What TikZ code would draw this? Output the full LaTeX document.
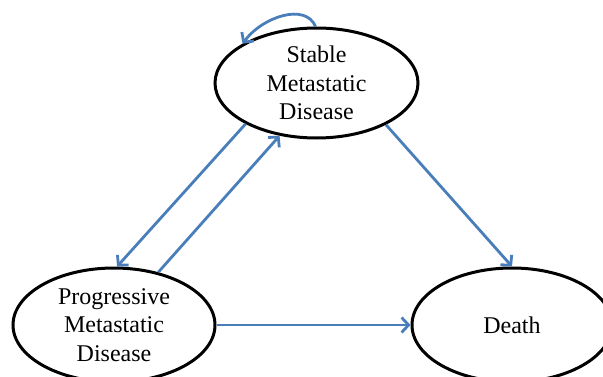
\documentclass[tikz,border=0pt]{standalone}
\usepackage{fontspec}
\setmainfont{Liberation Serif}
\usetikzlibrary{shapes.geometric,arrows.meta}
\definecolor{linkblue}{RGB}{74,126,187}
\begin{document}
\begin{tikzpicture}[x = 1pt, y = 1pt,
   state/.style = {draw, ellipse, line width = 3pt, inner sep = 0pt, align = center,
      font = \fontsize{24}{28.5}\selectfont},
   link/.style = {draw = linkblue, line width = 2.8pt, -{Straight Barb[length = 7pt, width = 15pt]}}]
   \useasboundingbox (0,0) rectangle (603,376);
   \clip (0,0) rectangle (603,376);
   \node[state, minimum width = 203pt, minimum height = 110pt] (stable) at (316.5,293) {Stable\\Metastatic\\Disease};
   \node[state, minimum width = 202pt, minimum height = 114pt] (prog) at (114,51) {Progressive\\Metastatic\\Disease};
   \node[state, minimum width = 200pt, minimum height = 114pt] (death) at (512,51) {Death};
   \draw[link] (stable.91) .. controls +(-10,24) and +(20,27) .. (stable.152);
   \draw[link] (stable.210) -- (prog.87);
   \draw[link] (prog.50) -- (stable.235);
   \draw[link] (stable.-31) -- (death.north);
   \draw[link] (prog.east) -- (death.west);
\end{tikzpicture}
\end{document}
